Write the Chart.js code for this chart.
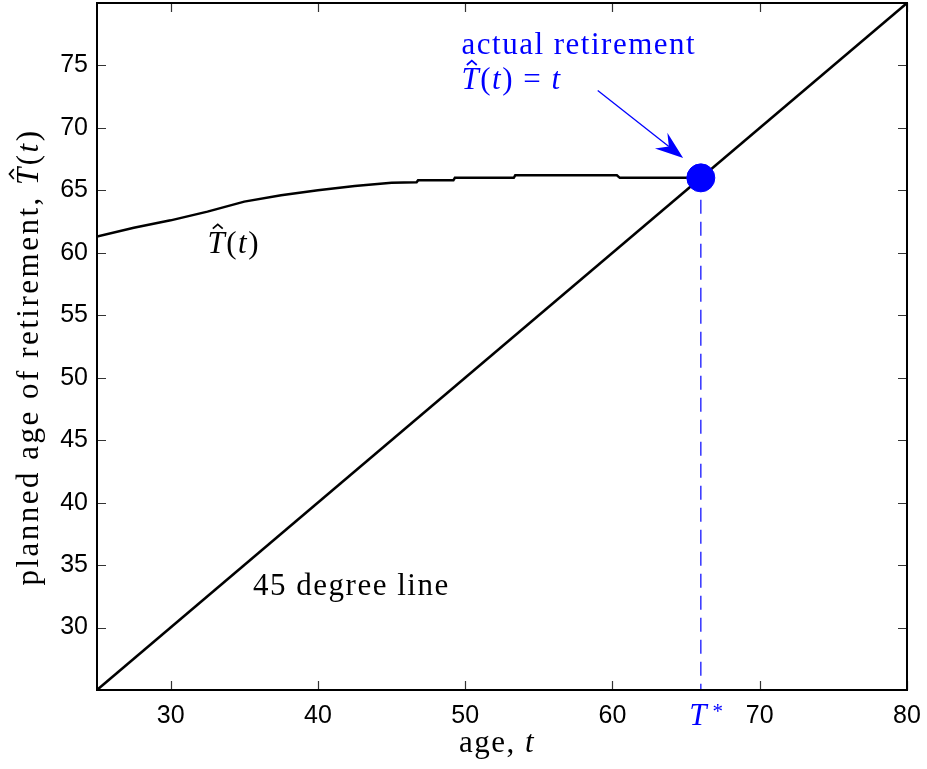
<!DOCTYPE html>
<html>
<head>
<meta charset="utf-8">
<script src="https://cdn.jsdelivr.net/npm/chart.js@4.4.0/dist/chart.umd.min.js"></script>
<style>
  html, body { margin: 0; padding: 0; background: #fff; }
  #wrap { width: 927px; height: 769px; }
</style>
</head>
<body>
<div id="wrap"><canvas id="retireChart" width="927" height="769"></canvas></div>
<script>
// planned retirement age as a function of current age
var ages = [25, 27.5, 30, 32.5, 35, 37.5, 40, 42.5, 45, 46.7, 46.8, 49.2, 49.3, 53.3, 53.4, 60.3, 60.5, 66];
var plannedAge = [61.3, 62.0, 62.6, 63.3, 64.1, 64.6, 65.0, 65.35, 65.6, 65.65, 65.8, 65.8, 66.0, 66.0, 66.2, 66.2, 66.0, 66.0];
// 45 degree line
var diagAges = [25, 80];
var diagValues = [25, 80];
// actual retirement point T*
var retireAge = 66;
var retireValue = 66;
var xTicks = [30, 40, 50, 60, 70, 80];
var yTicks = [30, 35, 40, 45, 50, 55, 60, 65, 70, 75];

var BLUE = '#0000ff';
var SERIF = '"Liberation Serif", "DejaVu Serif", serif';
var SANS = '"Liberation Sans", Arial, sans-serif';
var FS = 31;

function toPts(xs, ys) {
    return xs.map(function(x, i) { return { x: x, y: ys[i] }; });
}

// text made of roman / italic pieces, optional hat over a piece
function setFont(ctx, p, size, sp) {
    ctx.font = (p.i ? 'italic ' : '') + size + 'px ' + SERIF;
    ctx.letterSpacing = sp;
}
function richWidth(ctx, parts, size, sp) {
    var w = 0;
    parts.forEach(function(p) {
        setFont(ctx, p, size, sp);
        w += ctx.measureText(p.t).width;
    });
    return w;
}
function drawRich(ctx, x, y, parts, size, color, align, sp) {
    sp = sp || '1.5px';
    var w = richWidth(ctx, parts, size, sp);
    if (align === 'center') x -= w / 2;
    ctx.fillStyle = color;
    ctx.strokeStyle = color;
    ctx.textBaseline = 'alphabetic';
    ctx.textAlign = 'left';
    parts.forEach(function(p) {
        setFont(ctx, p, size, sp);
        var pw = ctx.measureText(p.t).width;
        ctx.fillText(p.t, x, y);
        if (p.hat) {
            var cx = x + pw * 0.55;
            var hw = size * 0.16;
            ctx.save();
            ctx.lineWidth = Math.max(1, size / 18);
            ctx.beginPath();
            ctx.moveTo(cx - hw, y - size * 0.78);
            ctx.lineTo(cx, y - size * 0.92);
            ctx.lineTo(cx + hw, y - size * 0.78);
            ctx.stroke();
            ctx.restore();
        }
        x += pw;
    });
    ctx.letterSpacing = '0px';
}

var decorPlugin = {
    id: 'decor',
    afterDraw: function(chart) {
        var ctx = chart.ctx;
        var a = chart.chartArea;
        var xs = chart.scales.x, ys = chart.scales.y;
        ctx.save();

        // inward ticks on all four sides
        ctx.strokeStyle = '#333';
        ctx.lineWidth = 1.2;
        var tl = 9;
        xTicks.forEach(function(v) {
            var px = Math.round(xs.getPixelForValue(v)) + 0.5;
            ctx.beginPath();
            ctx.moveTo(px, a.bottom); ctx.lineTo(px, a.bottom - tl);
            ctx.moveTo(px, a.top); ctx.lineTo(px, a.top + tl);
            ctx.stroke();
        });
        yTicks.forEach(function(v) {
            var py = Math.round(ys.getPixelForValue(v)) + 0.5;
            ctx.beginPath();
            ctx.moveTo(a.left, py); ctx.lineTo(a.left + tl, py);
            ctx.moveTo(a.right, py); ctx.lineTo(a.right - tl, py);
            ctx.stroke();
        });

        // frame
        ctx.strokeStyle = '#000';
        ctx.lineWidth = 2;
        ctx.strokeRect(a.left, a.top, a.right - a.left, a.bottom - a.top);

        // arrow to the retirement point
        var x0 = xs.getPixelForValue(59.0), y0 = ys.getPixelForValue(73.0);
        var x1 = xs.getPixelForValue(64.8), y1 = ys.getPixelForValue(67.6);
        var ang = Math.atan2(y1 - y0, x1 - x0);
        var hl = 28, hw = 10, notch = 0.65;
        var c = Math.cos(ang), s = Math.sin(ang);
        ctx.strokeStyle = BLUE;
        ctx.fillStyle = BLUE;
        ctx.lineWidth = 1.3;
        ctx.beginPath();
        ctx.moveTo(x0, y0);
        ctx.lineTo(x1 - hl * notch * c, y1 - hl * notch * s);
        ctx.stroke();
        ctx.beginPath();
        ctx.moveTo(x1, y1);
        ctx.lineTo(x1 - hl * c + hw * s, y1 - hl * s - hw * c);
        ctx.lineTo(x1 - hl * notch * c, y1 - hl * notch * s);
        ctx.lineTo(x1 - hl * c - hw * s, y1 - hl * s + hw * c);
        ctx.closePath();
        ctx.fill();

        // annotations
        drawRich(ctx, xs.getPixelForValue(49.75), ys.getPixelForValue(75.9),
            [{ t: 'actual retirement' }], FS, BLUE);
        drawRich(ctx, xs.getPixelForValue(49.75), ys.getPixelForValue(73.1),
            [{ t: 'T', i: true, hat: true }, { t: '(' }, { t: 't', i: true }, { t: ') = ' }, { t: 't', i: true }], FS, BLUE);
        drawRich(ctx, xs.getPixelForValue(32.5), ys.getPixelForValue(60.0),
            [{ t: 'T', i: true, hat: true }, { t: '(' }, { t: 't', i: true }, { t: ')' }], FS, '#000');
        drawRich(ctx, xs.getPixelForValue(35.6), ys.getPixelForValue(32.6),
            [{ t: '45 degree line' }], FS, '#000');

        // T* label under the axis
        var tx = xs.getPixelForValue(retireAge);
        ctx.font = 'italic ' + FS + 'px ' + SERIF;
        ctx.fillStyle = BLUE;
        ctx.textAlign = 'center';
        ctx.textBaseline = 'alphabetic';
        ctx.fillText('T', tx - 3, a.bottom + 35);
        ctx.font = '21px ' + SERIF;
        ctx.fillText('*', tx + 17, a.bottom + 28);

        // axis titles
        drawRich(ctx, 497, 752,
            [{ t: 'age, ' }, { t: 't', i: true }], FS, '#000', 'center');
        ctx.save();
        ctx.translate(38, 357);
        ctx.rotate(-Math.PI / 2);
        drawRich(ctx, 0, 0,
            [{ t: 'planned age of retirement, ' }, { t: 'T', i: true, hat: true }, { t: '(' }, { t: 't', i: true }, { t: ')' }], FS, '#000', 'center', '2.5px');
        ctx.restore();

        ctx.restore();
    }
};

var chart = new Chart(document.getElementById('retireChart').getContext('2d'), {
    type: 'scatter',
    data: {
        datasets: [{
            label: 'actual retirement',
            data: [{ x: retireAge, y: retireValue }],
            pointRadius: 14,
            pointBackgroundColor: BLUE,
            pointBorderColor: BLUE,
            showLine: false
        }, {
            label: 'planned',
            data: toPts(ages, plannedAge),
            showLine: true,
            borderColor: '#000',
            borderWidth: 2.5,
            pointRadius: 0,
            tension: 0
        }, {
            label: '45 degree line',
            data: toPts(diagAges, diagValues),
            showLine: true,
            borderColor: '#000',
            borderWidth: 2.5,
            pointRadius: 0
        }, {
            label: 'T*',
            data: [{ x: retireAge, y: retireValue }, { x: retireAge, y: 25 }],
            showLine: true,
            borderColor: '#3333ff',
            borderWidth: 1.5,
            borderDash: [14, 8],
            pointRadius: 0
        }]
    },
    options: {
        responsive: false,
        animation: false,
        devicePixelRatio: 1,
        layout: { autoPadding: false, padding: { top: 3, right: 20, left: 0, bottom: 0 } },
        plugins: {
            legend: { display: false },
            tooltip: { enabled: false }
        },
        scales: {
            x: {
                type: 'linear',
                min: 25,
                max: 80,
                afterBuildTicks: function(s) { s.ticks = xTicks.map(function(v) { return { value: v }; }); },
                afterFit: function(s) { s.height = 79; s.paddingLeft = 0; s.paddingRight = 0; },
                grid: { display: false, drawTicks: false },
                border: { display: false },
                ticks: {
                    color: '#000',
                    padding: 11,
                    maxRotation: 0,
                    autoSkip: false,
                    font: { family: SANS, size: 25 }
                }
            },
            y: {
                type: 'linear',
                min: 25,
                max: 80,
                afterBuildTicks: function(s) { s.ticks = yTicks.map(function(v) { return { value: v }; }); },
                afterFit: function(s) { s.width = 97; s.paddingTop = 0; s.paddingBottom = 0; },
                grid: { display: false, drawTicks: false },
                border: { display: false },
                ticks: {
                    color: '#000',
                    padding: 9,
                    autoSkip: false,
                    font: { family: SANS, size: 25, lineHeight: 0.1 }
                }
            }
        }
    },
    plugins: [decorPlugin]
});
</script>
</body>
</html>
